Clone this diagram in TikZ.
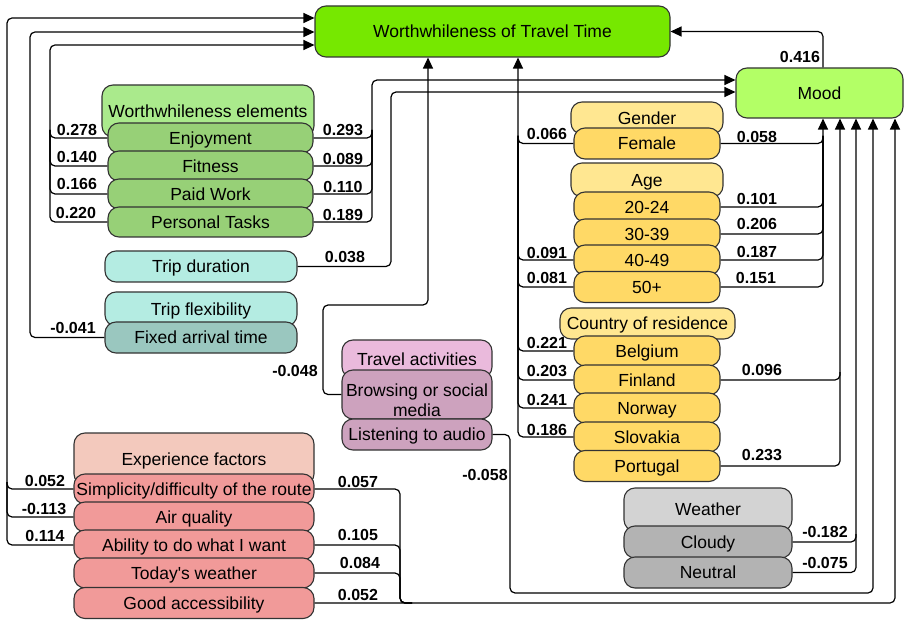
\documentclass[tikz,border=0pt]{standalone}
\usepackage{fontspec}
\setmainfont{Liberation Sans}
\usetikzlibrary{arrows.meta}
\definecolor{wttgreen}{RGB}{118,232,0}
\definecolor{moodgreen}{RGB}{179,255,102}
\definecolor{welhead}{RGB}{170,234,140}
\definecolor{welsub}{RGB}{151,208,119}
\definecolor{triphead}{RGB}{180,236,226}
\definecolor{tripsub}{RGB}{154,199,191}
\definecolor{acthead}{RGB}{234,186,220}
\definecolor{actsub}{RGB}{205,162,190}
\definecolor{demohead}{RGB}{255,231,145}
\definecolor{demosub}{RGB}{255,217,102}
\definecolor{wxhead}{RGB}{211,211,211}
\definecolor{wxsub}{RGB}{179,179,179}
\definecolor{exphead}{RGB}{243,201,189}
\definecolor{expsub}{RGB}{241,154,153}
\definecolor{edgegray}{RGB}{51,51,51}

\begin{document}
\begin{tikzpicture}[x=1pt, y=-1pt,
	box/.style={draw=edgegray, line width=1.1pt, rounded corners=11pt, inner sep=0pt, text height=12.5pt, text depth=0pt, font=\fontsize{17.5}{20}\selectfont},
	coef/.style={inner sep=0pt, font=\bfseries\fontsize{16}{18}\selectfont},
	conn/.style={line width=1.2pt, rounded corners=5pt, -{Triangle[length=11pt,width=10pt]}},
	branch/.style={line width=1.2pt, rounded corners=5pt}]
				\useasboundingbox (0,0) rectangle (905,620);
				
				% Outcomes
				\node[box, fill=wttgreen, minimum width=355pt, minimum height=51pt] (wtt) at (492.5,31.5) {Worthwhileness of Travel Time};
				\node[box, fill=moodgreen, minimum width=167pt, minimum height=50pt] (mood) at (819.5,93) {Mood};
				
				% Worthwhileness elements
				\node[box, fill=welhead, minimum width=212pt, minimum height=52pt] (welgroup) at (208,111) {Worthwhileness elements};
				\node[box, fill=welsub, minimum width=205pt, minimum height=30pt] (enjoy) at (210.5,138) {Enjoyment};
				\node[box, fill=welsub, minimum width=205pt, minimum height=30pt] (fitness) at (210.5,166) {Fitness};
				\node[box, fill=welsub, minimum width=205pt, minimum height=30pt] (paid) at (210.5,194) {Paid Work};
				\node[box, fill=welsub, minimum width=205pt, minimum height=30pt] (tasks) at (210.5,222) {Personal Tasks};
				
				% Trip characteristics
				\node[box, fill=triphead, minimum width=192pt, minimum height=31pt] (tripdur) at (201,266.5) {Trip duration};
				\node[box, fill=triphead, minimum width=192pt, minimum height=34pt] (tripflex) at (201,309) {Trip flexibility};
				\node[box, fill=tripsub, minimum width=192pt, minimum height=31pt] (fixed) at (201,337.5) {Fixed arrival time};
				
				% Travel activities
				\node[box, fill=acthead, minimum width=150pt, minimum height=38pt] (actgroup) at (417,359) {Travel activities};
				\node[box, fill=actsub, minimum width=150pt, minimum height=49pt, text height=, text depth=, align=center] (browse) at (417,394.5) {\rule{0pt}{24pt}Browsing or social\\media};
				\node[box, fill=actsub, minimum width=150pt, minimum height=31pt] (listen) at (417,434.5) {Listening to audio};
				
				% Socio-demographics
				\node[box, fill=demohead, minimum width=152pt, minimum height=32pt] (gender) at (647,118) {Gender};
				\node[box, fill=demosub, minimum width=146pt, minimum height=31pt] (female) at (647,143.5) {Female};
				\node[box, fill=demohead, minimum width=152pt, minimum height=34pt] (age) at (647,180) {Age};
				\node[box, fill=demosub, minimum width=146pt, minimum height=30pt] (a2024) at (647,207) {20-24};
				\node[box, fill=demosub, minimum width=146pt, minimum height=30pt] (a3039) at (647,234) {30-39};
				\node[box, fill=demosub, minimum width=146pt, minimum height=30pt] (a4049) at (647,260) {40-49};
				\node[box, fill=demosub, minimum width=146pt, minimum height=31pt] (a50) at (647,287) {50+};
				\node[box, fill=demohead, minimum width=175pt, minimum height=31pt] (country) at (647.5,323.5) {Country of residence};
				\node[box, fill=demosub, minimum width=146pt, minimum height=30pt] (belgium) at (647,351) {Belgium};
				\node[box, fill=demosub, minimum width=146pt, minimum height=30pt] (finland) at (647,380) {Finland};
				\node[box, fill=demosub, minimum width=146pt, minimum height=30pt] (norway) at (647,408) {Norway};
				\node[box, fill=demosub, minimum width=146pt, minimum height=30pt] (slovakia) at (647,437) {Slovakia};
				\node[box, fill=demosub, minimum width=146pt, minimum height=31pt] (portugal) at (647,466) {Portugal};
				
				% Weather
				\node[box, fill=wxhead, minimum width=168pt, minimum height=43pt] (weather) at (708,509.5) {Weather};
				\node[box, fill=wxsub, minimum width=168pt, minimum height=32pt] (cloudy) at (708,542) {Cloudy};
				\node[box, fill=wxsub, minimum width=168pt, minimum height=31pt] (neutral) at (708,572.5) {Neutral};
				
				% Experience factors
				\node[box, fill=exphead, minimum width=240pt, minimum height=52pt] (expgroup) at (194,459) {Experience factors};
				\node[box, fill=expsub, minimum width=240pt, minimum height=30pt] (simp) at (194,489) {Simplicity/difficulty of the route};
				\node[box, fill=expsub, minimum width=240pt, minimum height=30pt] (air) at (194,517) {Air quality};
				\node[box, fill=expsub, minimum width=240pt, minimum height=30pt] (ability) at (194,545) {Ability to do what I want};
				\node[box, fill=expsub, minimum width=240pt, minimum height=30pt] (today) at (194,573) {Today\textquotesingle s weather};
				\node[box, fill=expsub, minimum width=240pt, minimum height=31pt] (good) at (194,603) {Good accessibility};
				
				% Paths into worthwhileness
				\draw[conn] (simp.west) -| (7,18) -- (wtt.west |- 0,18);
				\draw[branch] (air.west) -| (7,482);
				\draw[branch] (ability.west) -| (7,482);
				\draw[conn] (fixed.west) -| (30,32) -- (wtt.west |- 0,32);
				\draw[conn] (enjoy.west) -| (50,45) -- (wtt.west |- 0,45);
				\draw[branch] (fitness.west) -| (50,130);
				\draw[branch] (paid.west) -| (50,130);
				\draw[branch] (tasks.west) -| (50,130);
				\draw[conn] (browse.west) -| (323,305) -| (428,0 |- wtt.south);
				\draw[conn] (female.west) -| (518,0 |- wtt.south);
				\draw[branch] (a4049.west) -| (518,136);
				\draw[branch] (a50.west) -| (518,136);
				\draw[branch] (belgium.west) -| (518,136);
				\draw[branch] (finland.west) -| (518,136);
				\draw[branch] (norway.west) -| (518,136);
				\draw[branch] (slovakia.west) -| (518,136);
				\draw[conn] (823,0 |- mood.north) |- (wtt.east);
				
				% Paths into mood
				\draw[conn] (enjoy.east) -| (372,80) -- (mood.west |- 0,80);
				\draw[branch] (fitness.east) -| (372,130);
				\draw[branch] (paid.east) -| (372,130);
				\draw[branch] (tasks.east) -| (372,130);
				\draw[conn] (tripdur.east) -| (391,92) -- (mood.west |- 0,92);
				\draw[conn] (female.east) -| (823,0 |- mood.south);
				\draw[branch] (a2024.east) -| (823,136);
				\draw[branch] (a3039.east) -| (823,136);
				\draw[branch] (a4049.east) -| (823,136);
				\draw[branch] (a50.east) -| (823,136);
				\draw[conn] (finland.east) -| (840,0 |- mood.south);
				\draw[branch] (portugal.east) -| (840,372);
				\draw[conn] (cloudy.east) -| (856,0 |- mood.south);
				\draw[branch] (neutral.east) -| (856,534);
				\draw[conn] (listen.east) -| (510,593) -| (873,0 |- mood.south);
				\draw[conn] (good.east) -| (895,0 |- mood.south);
				\draw[branch] (simp.east) -| (400,603) -- (412,603);
				\draw[branch] (ability.east) -| (400,603) -- (412,603);
				\draw[branch] (today.east) -| (400,603) -- (412,603);
				
				% Coefficients
				\node[coef] (cEnjL) at (77,130) {0.278};
				\node[coef] (cFitL) at (77,157) {0.140};
				\node[coef] (cPaidL) at (77,184) {0.166};
				\node[coef] (cTaskL) at (76,213) {0.220};
				\node[coef] (cEnjR) at (343,130) {0.293};
				\node[coef] (cFitR) at (343,159) {0.089};
				\node[coef] (cPaidR) at (343,187) {0.110};
				\node[coef] (cTaskR) at (343,215) {0.189};
				\node[coef] (cDur) at (345,257) {0.038};
				\node[coef] (cFixed) at (73,328) {-0.041};
				\node[coef] (cBrowse) at (295,371) {-0.048};
				\node[coef] (cListen) at (485,475) {-0.058};
				\node[coef] (cMood) at (800,57) {0.416};
				\node[coef] (cFemL) at (547,134) {0.066};
				\node[coef] (c4049L) at (547,253) {0.091};
				\node[coef] (c50L) at (547,278) {0.081};
				\node[coef] (cBelL) at (547,343) {0.221};
				\node[coef] (cFinL) at (547,371) {0.203};
				\node[coef] (cNorL) at (547,400) {0.241};
				\node[coef] (cSloL) at (547,430) {0.186};
				\node[coef] (cFemR) at (757,137) {0.058};
				\node[coef] (c2024R) at (757,199) {0.101};
				\node[coef] (c3039R) at (757,224) {0.206};
				\node[coef] (c4049R) at (757,252) {0.187};
				\node[coef] (c50R) at (756,278) {0.151};
				\node[coef] (cFinR) at (762,370) {0.096};
				\node[coef] (cPorR) at (762,455) {0.233};
				\node[coef] (cCloudy) at (825,532) {-0.182};
				\node[coef] (cNeutral) at (825,563) {-0.075};
				\node[coef] (cSimpL) at (45,481) {0.052};
				\node[coef] (cAirL) at (44,509) {-0.113};
				\node[coef] (cAbilL) at (45,536) {0.114};
				\node[coef] (cSimpR) at (358,482) {0.057};
				\node[coef] (cAbilR) at (358,535) {0.105};
				\node[coef] (cTodayR) at (360,563) {0.084};
				\node[coef] (cGoodR) at (358,595) {0.052};
			\end{tikzpicture}
\end{document}
